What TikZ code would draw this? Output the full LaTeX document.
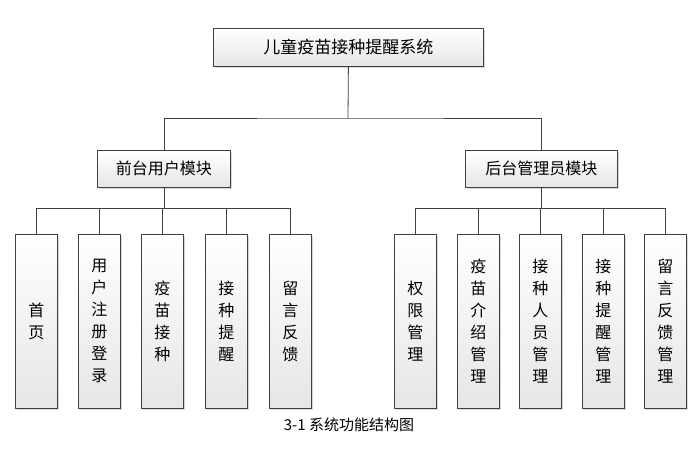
\documentclass[tikz,border=0pt]{standalone}
\usepackage{fontspec}
\setmainfont{Noto Sans CJK SC}
\usetikzlibrary{shadows}
\begin{document}
\begin{tikzpicture}[x=1pt,y=-1pt,
  bx/.style={draw=black!75,line width=0.8pt,top color=white,bottom color=black!10,
    drop shadow={shadow xshift=1.5pt,shadow yshift=-1.5pt,opacity=0.3},inner sep=0pt,anchor=north west},
  lf/.style={bx,minimum width=42pt,minimum height=174pt,font=\fontsize{16}{22}\selectfont,align=center},
  ln/.style={draw=black!75,line width=0.8pt}]
\useasboundingbox (0,0) rectangle (699,448);
\fill[white] (0,0) rectangle (699,448);
\node[bx,minimum width=270pt,minimum height=38pt,font=\fontsize{17}{20}\selectfont] (top) at (213,28) {儿童疫苗接种提醒系统};
\node[bx,minimum width=133pt,minimum height=37pt,font=\fontsize{16}{20}\selectfont] (fr) at (97,150) {前台用户模块};
\node[bx,minimum width=152pt,minimum height=37pt,font=\fontsize{16}{20}\selectfont] (bk) at (465,150) {后台管理员模块};
\coordinate (j1) at (348,118);
\draw[ln] (top.south) -- (j1);
\draw[ln] (fr.north) |- (j1) -| (bk.north);
\foreach \n/\x/\t in {a/15/首\\页, b/78/用\\户\\注\\册\\登\\录, c/141/疫\\苗\\接\\种, d/205/接\\种\\提\\醒, e/269/留\\言\\反\\馈}{
  \node[lf] (\n) at (\x,234) {\t};
  \draw[ln] (\n.north) -- ++(0,-26) -| (fr.south);
}
\foreach \n/\x/\t in {f/394/权\\限\\管\\理, g/457/疫\\苗\\介\\绍\\管\\理, h/519/接\\种\\人\\员\\管\\理, i/582/接\\种\\提\\醒\\管\\理, k/644/留\\言\\反\\馈\\管\\理}{
  \node[lf] (\n) at (\x,234) {\t};
  \draw[ln] (\n.north) -- ++(0,-26) -| (bk.south);
}
\node[font=\fontsize{15}{18}\selectfont] (cap) at (349,425) {3-1 系统功能结构图};
\end{tikzpicture}
\end{document}
